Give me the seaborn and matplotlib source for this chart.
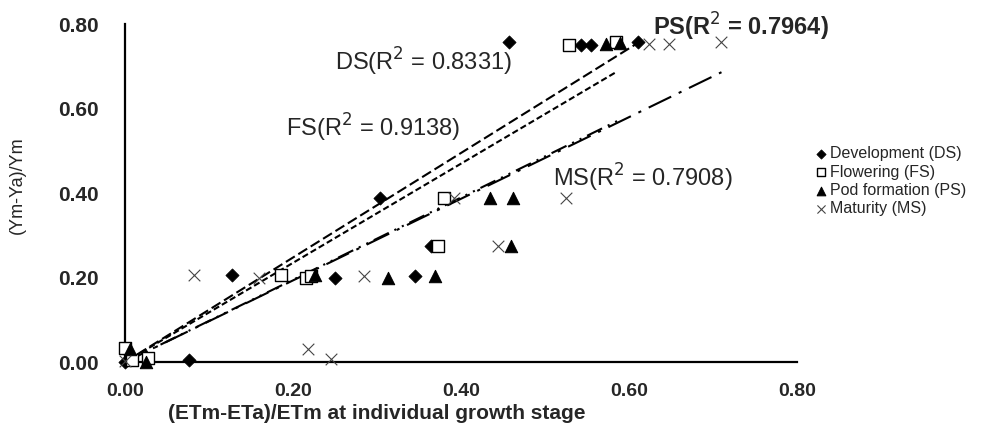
import numpy as np
import pandas as pd
import matplotlib
matplotlib.use("Agg")
import matplotlib.pyplot as plt
import seaborn as sns

# data
ds_x = [0.000, 0.076, 0.128, 0.250, 0.345, 0.304, 0.364, 0.457, 0.543, 0.555, 0.611]
ds_y = [0.000, 0.005, 0.205, 0.200, 0.203, 0.388, 0.275, 0.757, 0.750, 0.750, 0.757]

fs_x = [0.000, 0.008, 0.027, 0.186, 0.215, 0.222, 0.373, 0.380, 0.528, 0.585]
fs_y = [0.033, 0.005, 0.010, 0.207, 0.200, 0.203, 0.275, 0.388, 0.750, 0.757]

ps_x = [0.006, 0.025, 0.226, 0.313, 0.369, 0.460, 0.435, 0.462, 0.573, 0.589]
ps_y = [0.031, 0.000, 0.205, 0.200, 0.203, 0.275, 0.388, 0.388, 0.752, 0.755]

ms_x = [0.000, 0.082, 0.159, 0.218, 0.245, 0.285, 0.392, 0.444, 0.525, 0.624, 0.647, 0.710]
ms_y = [0.003, 0.207, 0.200, 0.031, 0.008, 0.203, 0.388, 0.275, 0.388, 0.752, 0.752, 0.757]

labels = ["Development (DS)", "Flowering (FS)", "Pod formation (PS)", "Maturity (MS)"]
r2_text = ["DS(R$^2$ = 0.8331)", "FS(R$^2$ = 0.9138)", "PS(R$^2$ = 0.7964)", "MS(R$^2$ = 0.7908)"]
ticks = [0.0, 0.2, 0.4, 0.6, 0.8]

# %%
sns.set_style("white")
plt.rcParams["font.family"] = ["Liberation Sans", "DejaVu Sans"]

fig = plt.figure(figsize=(9.87, 4.30), dpi=100)
ax = fig.add_axes([0.1266, 0.158, 0.681, 0.786])

series = [(ds_x, ds_y), (fs_x, fs_y), (ps_x, ps_y), (ms_x, ms_y)]
mstyle = [
    dict(marker="D", s=45, color="black", edgecolor="black"),
    dict(marker="s", s=70, color="white", edgecolor="black", linewidth=1.0),
    dict(marker="^", s=80, color="black", edgecolor="black"),
    dict(marker="x", s=70, color="#444444", linewidth=0.8),
]
# DS / FS dashed, PS dash-dot-dot, MS long dash-dot
line_dash = [(0, (5, 2)), (0, (3, 1.5)), (0, (8, 3, 1, 3, 1, 3)), (0, (12, 4, 1.5, 4))]

handles = []
for (x, y), lab, ms, ls in zip(series, labels, mstyle, line_dash):
    df = pd.DataFrame({"x": x, "y": y})
    sns.scatterplot(data=df, x="x", y="y", ax=ax, clip_on=False, zorder=3, **ms)
    handles.append(ax.collections[-1])
    # linear trend forced through the origin
    xa = np.array(x)
    slope = (xa * np.array(y)).sum() / (xa * xa).sum()
    fit = pd.DataFrame({"x": [0.0, xa.max()], "y": [0.0, slope * xa.max()]})
    sns.lineplot(data=fit, x="x", y="y", ax=ax, color="black", lw=1.5,
                 linestyle=ls, zorder=2)

# R² labels
ax.text(0.250, 0.710, r2_text[0], fontsize=17, va="center")
ax.text(0.192, 0.554, r2_text[1], fontsize=17, va="center")
ax.text(0.629, 0.793, r2_text[2], fontsize=17, va="center", fontweight="bold")
ax.text(0.509, 0.435, r2_text[3], fontsize=17, va="center")

ax.set_xlim(0, 0.8)
ax.set_ylim(0, 0.8)
ax.set_xticks(ticks)
ax.set_yticks(ticks)
ax.set_xticklabels([f"{t:.2f}" for t in ticks], fontsize=14, fontweight="bold")
ax.set_yticklabels([f"{t:.2f}" for t in ticks], fontsize=15, fontweight="bold")
ax.tick_params(axis="both", direction="out", length=5, width=1.5, color="black")
ax.tick_params(axis="x", pad=10)
ax.tick_params(axis="y", pad=14)

sns.despine(ax=ax)
for sp in ["left", "bottom"]:
    ax.spines[sp].set_linewidth(1.6)
    ax.spines[sp].set_color("black")

ax.set_xlabel("(ETm-ETa)/ETm at individual growth stage", fontsize=15, fontweight="bold")
ax.set_ylabel("(Ym-Ya)/Ym", fontsize=13)
ax.xaxis.set_label_coords(0.375, -0.125)
ax.yaxis.set_label_coords(-0.148, 0.524)

fig.legend(handles, labels, loc="upper left", bbox_to_anchor=(0.809, 0.693),
           frameon=False, fontsize=11.5, handletextpad=0.1, labelspacing=0.2,
           handlelength=1.0, markerscale=0.7)

fig.savefig("out.png", dpi=100)
